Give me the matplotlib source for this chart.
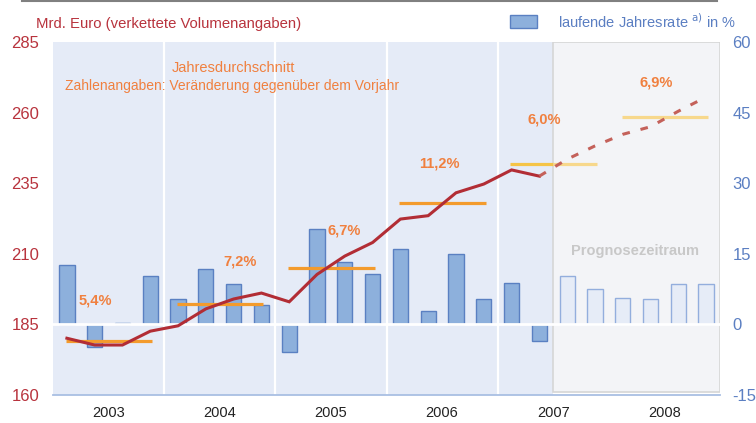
from matplotlib import pyplot as plt
from matplotlib.patches import Rectangle
from matplotlib.lines import Line2D
import numpy as np

plt.rcParams['font.family'] = ['Liberation Sans', 'DejaVu Sans']
plt.rcParams['axes.unicode_minus'] = False

# quarterly data 2003 Q1 .. 2008 Q4 (from Q3 2007 on: forecast)
years = ['2003', '2004', '2005', '2006', '2007', '2008']
volume = [180.1, 177.7, 177.7, 182.6, 184.5, 190.5, 194.0, 196.1,
          193.0, 202.7, 209.2, 214.0, 222.3, 223.5, 231.6, 234.7,
          239.7, 237.5, 243.5, 248.2, 252.3, 255.0, 260.5, 265.5]
rate = [12.7, -4.8, 0.2, 10.3, 5.5, 11.7, 8.5, 4.2,
        -5.9, 20.2, 13.3, 10.8, 16.1, 2.9, 15.0, 5.5,
        8.7, -3.6, 10.3, 7.6, 5.7, 5.5, 8.6, 8.6]
annual_avg = [179.1, 192.1, 205.0, 227.9, 241.7, 258.3]
annual_pct = ['5,4%', '7,2%', '6,7%', '11,2%', '6,0%', '6,9%']
n_hist = 18  # quarters of actual data

RED = '#B22D35'
BLUE = '#5B7FC2'
ORANGE = '#F0803F'

fig = plt.figure(figsize=(7.56, 4.23), dpi=100)
ax2 = fig.add_axes([0.0701, 0.0662, 0.8823, 0.8345])
ax = ax2.twinx()
ax.set_zorder(ax2.get_zorder() + 1)
ax.patch.set_visible(False)

x = np.arange(24) + 0.5

# backgrounds
ax2.set_facecolor('none')
ax2.axvspan(0, n_hist, color='#E5EBF7', zorder=0, lw=0)
ax2.add_patch(Rectangle((n_hist, -14.3), 24 - n_hist, 74.3, facecolor='#F3F4F7',
                        edgecolor='#D6D6D6', lw=1.2, zorder=0))
for b in [4, 8, 12, 16]:
    ax2.axvline(b, color='white', lw=1.6, zorder=1)

# bars
ax2.bar(x[:n_hist], rate[:n_hist], width=0.55, color='#8DB0DC', edgecolor='#5A80C2',
        lw=1, zorder=2)
ax2.bar(x[n_hist:], rate[n_hist:], width=0.55, color='#E6ECF7', edgecolor='#93AEDD',
        lw=1, zorder=2)
ax2.axhline(0, color='white', lw=2, zorder=3)

ax2.set_xlim(0, 24)
ax2.set_ylim(-15, 60)
ax.set_ylim(160, 285)

# annual averages
for i, (v, p) in enumerate(zip(annual_avg, annual_pct)):
    x0, x1 = 4 * i + 0.46, 4 * i + 3.57
    if i < 4:
        ax.hlines(v, x0, x1, color='#F39B2D', lw=2.3, zorder=4)
    elif i == 4:
        ax.hlines(v, x0, n_hist, color='#F5C447', lw=2.3, zorder=4)
        ax.hlines(v, n_hist, x1, color='#F7D88C', lw=2.3, zorder=4)
    else:
        ax.hlines(v, x0, x1, color='#F7D88C', lw=2.3, zorder=4)

pct_pos = [(1.51, 193.6), (6.73, 207.1), (10.47, 218.4),
           (13.89, 241.8), (17.67, 257.7), (21.7, 270.8)]
for (px, py), p in zip(pct_pos, annual_pct):
    ax.text(px, py, p, color=ORANGE, fontsize=10.5, fontweight='bold',
            ha='center', va='center', zorder=6)

# volume line
ax.plot(x[:n_hist], volume[:n_hist], color=RED, lw=2.2, zorder=5,
        solid_joinstyle='miter')
ax.plot(x[n_hist - 1:], volume[n_hist - 1:], color='#C4615A', lw=2.2, zorder=5,
        dashes=(2.5, 3.6))

ax.text(6.51, 275.8, 'Jahresdurchschnitt', color=ORANGE, fontsize=10.5,
        ha='center', va='center')
ax.text(6.44, 269.4, 'Zahlenangaben: Veränderung gegenüber dem Vorjahr',
        color=ORANGE, fontsize=10, ha='center', va='center')
ax.text(20.94, 211.0, 'Prognosezeitraum', color='#C8C8C8', fontsize=10.5,
        fontweight='bold', ha='center', va='center')

# axes styling
for a in (ax, ax2):
    for s in a.spines.values():
        s.set_visible(False)
ax2.spines['bottom'].set_visible(True)
ax2.spines['bottom'].set_color('#A9BFE3')
ax2.spines['bottom'].set_linewidth(1.3)

ax.set_yticks(np.arange(160, 286, 25))
ax.yaxis.tick_left()
ax.tick_params(axis='y', length=0, pad=10, labelsize=12, labelcolor='#B8333D')
ax2.set_yticks(np.arange(-15, 61, 15))
ax2.yaxis.tick_right()
ax2.tick_params(axis='y', length=0, pad=9, labelsize=12, labelcolor=BLUE)

ax2.set_xticks(np.arange(0, 25, 4))
ax2.set_xticklabels([])
ax2.set_xticks(np.arange(2, 24, 4), minor=True)
ax2.set_xticklabels(years, minor=True)
ax2.tick_params(axis='x', which='major', length=5, width=1.2, color='#A9BFE3',
                direction='out')
ax2.tick_params(axis='x', which='minor', length=0, pad=8, labelsize=10.5,
                labelcolor='#222222')
ax.set_xticks([])

# header
fig.text(36 / 756, 1 - 24 / 423, 'Mrd. Euro (verkettete Volumenangaben)',
         color='#B8333D', fontsize=10.7, va='center', ha='left')
fig.add_artist(Rectangle((510 / 756, 1 - 28 / 423), 27 / 756, 13 / 423,
                         facecolor='#8DB0DC', edgecolor='#5A80C2', lw=1,
                         transform=fig.transFigure))
fig.text(558 / 756, 1 - 22 / 423, r'laufende Jahresrate $^{\mathrm{a)}}$ in %',
         color=BLUE, fontsize=10.5, va='center', ha='left')
fig.add_artist(Line2D([22 / 756, 717 / 756], [1 - 1.5 / 423, 1 - 1.5 / 423],
                      color='#808080', lw=1.5, transform=fig.transFigure))

plt.savefig('out.png', dpi=100)
